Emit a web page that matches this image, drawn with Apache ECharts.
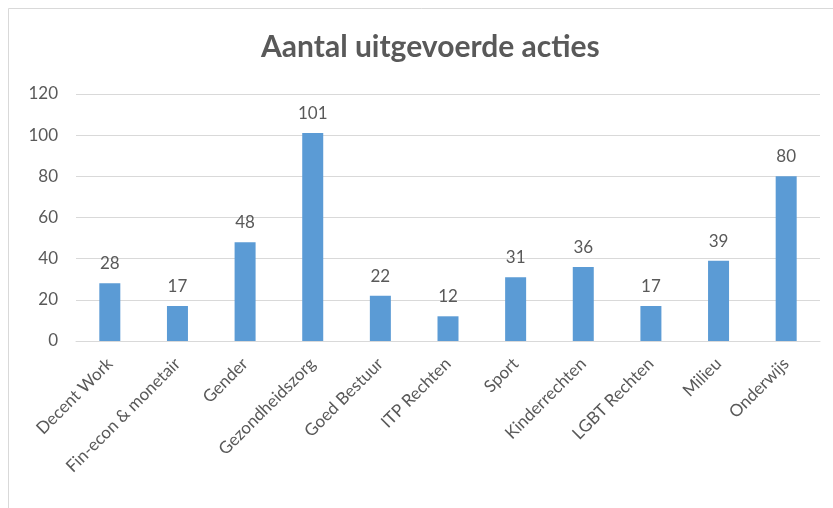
<!DOCTYPE html>
<html>
<head>
<meta charset="utf-8">
<script src="https://cdn.jsdelivr.net/npm/echarts@6/dist/echarts.min.js"></script>
<style>
html,body{margin:0;padding:0;background:#fff;}
#chart{width:833px;height:508px;}
</style>
</head>
<body>
<div id="chart"></div>
<script>
const categories = ["Decent Work","Fin-econ & monetair","Gender","Gezondheidszorg","Goed Bestuur","ITP Rechten","Sport","Kinderrechten","LGBT Rechten","Milieu","Onderwijs"];
const values = [28,17,48,101,22,12,31,36,17,39,80];
const titleText = "Aantal uitgevoerde acties";

const chart = echarts.init(document.getElementById('chart'));
chart.setOption({
  animation: false,
  backgroundColor: '#fff',
  graphic: [{
    type: 'rect',
    shape: {x: 8.5, y: 8.5, width: 900, height: 600},
    style: {fill: 'none', stroke: '#d9d9d9', lineWidth: 1},
    silent: true, z: -1
  }],
  title: {
    text: titleText,
    left: 256,
    top: 27,
    textStyle: {fontFamily: 'Lato', fontSize: 30, fontWeight: 'bold', color: '#595959'}
  },
  grid: {left: 76, right: 13, top: 94, bottom: 167, containLabel: false},
  xAxis: {
    type: 'category',
    data: categories,
    axisLine: {lineStyle: {color: '#d9d9d9'}},
    axisTick: {show: false},
    axisLabel: {rotate: 45, interval: 0, color: '#595959', fontFamily: 'Lato', fontSize: 17, margin: 20}
  },
  yAxis: {
    type: 'value',
    min: 0, max: 120, interval: 20,
    axisLine: {show: false},
    axisTick: {show: false},
    splitLine: {lineStyle: {color: '#d9d9d9'}},
    axisLabel: {color: '#595959', fontFamily: 'Lato', fontSize: 17, margin: 18}
  },
  series: [{
    type: 'bar',
    data: values,
    barWidth: 21,
    itemStyle: {color: '#5B9BD5'},
    label: {show: true, position: 'top', color: '#595959', fontFamily: 'Lato', fontSize: 17, distance: 11}
  }]
});
</script>
</body>
</html>
